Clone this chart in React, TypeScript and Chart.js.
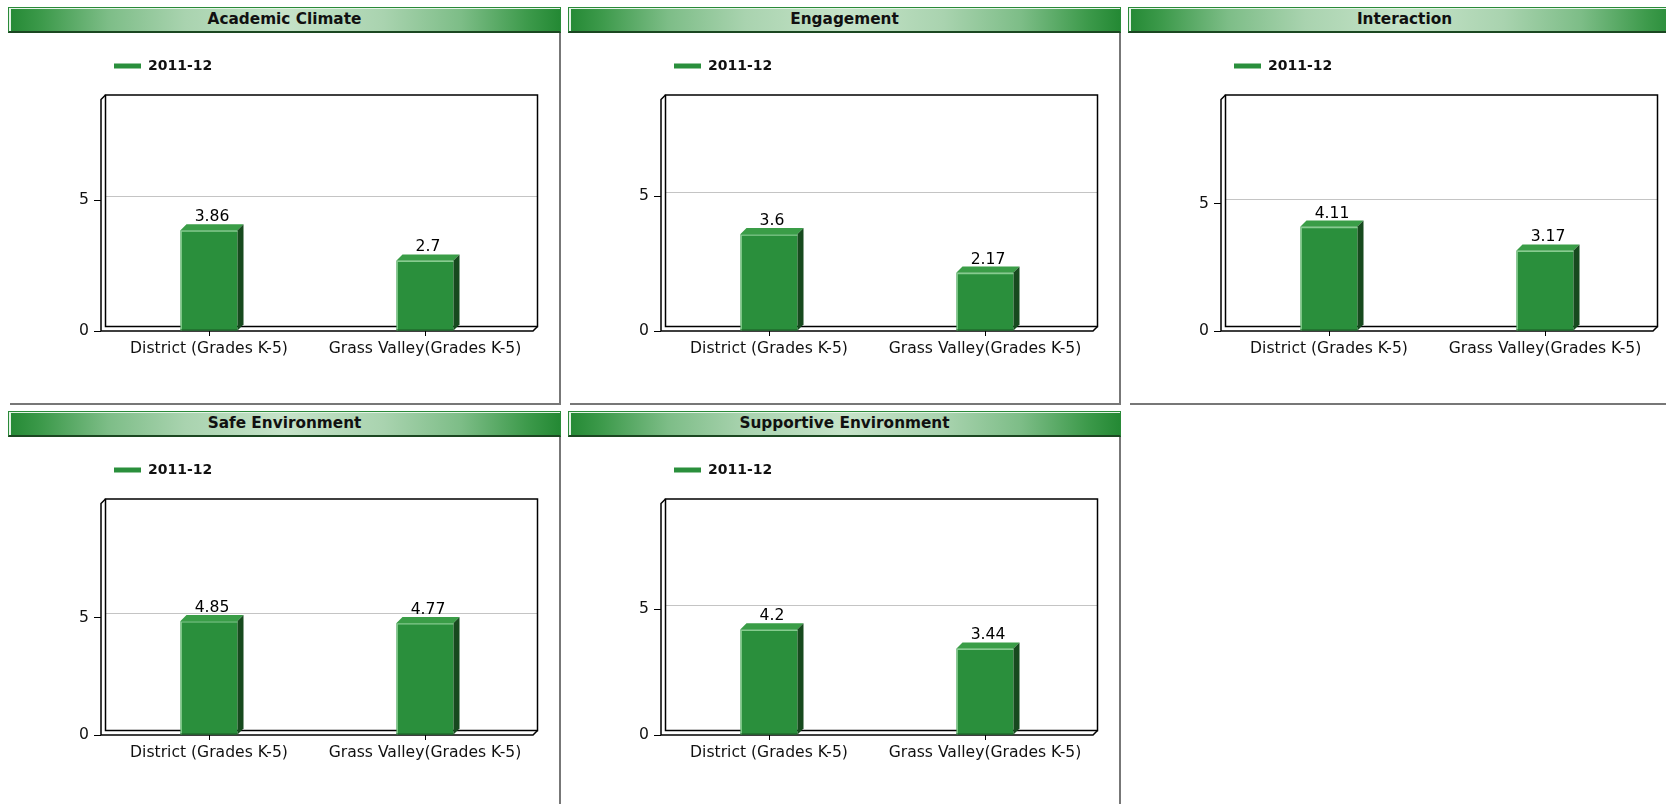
import React, { useEffect, useRef } from 'react';
import { Chart, registerables } from 'chart.js';

Chart.register(...registerables);

// ---------- data ----------
const panelTitles = ['Academic Climate', 'Engagement', 'Interaction', 'Safe Environment', 'Supportive Environment'];
const categories = ['District (Grades K-5)', 'Grass Valley(Grades K-5)'];
const seriesLabel = '2011-12';
const districtValues = [3.86, 3.6, 4.11, 4.85, 4.2];
const grassValleyValues = [2.7, 2.17, 3.17, 4.77, 3.44];
const yAxisMax = [8.86, 8.6, 9.11, 9.85, 9.2];
const yTickValues = [0, 5];

// ---------- style ----------
const FONT = "'DejaVu Sans', Verdana, sans-serif";
const BAR_COLOR = '#2a8f3c';
const WALL_DEPTH = 4.5;
const BAR_DEPTH = 6;
const PANEL_W = 560;
const PANEL_H = 404;
const HEADER_H = 26;
const CANVAS_W = 552;
const CANVAS_H = 371;
const TEXT_SIZE = 15.6;

const frame3d = {
  id: 'frame3d',
  beforeDatasetsDraw(chart: any) {
    const { ctx, chartArea } = chart;
    const { left: L, right: R, top: T, bottom: B } = chartArea;
    const D = WALL_DEPTH;
    const ys = chart.scales.y;
    ctx.save();
    ctx.strokeStyle = '#c4c4c4';
    ctx.lineWidth = 1;
    ys.ticks.forEach((t: any) => {
      if (t.value <= 0) return;
      const yy = Math.round(ys.getPixelForValue(t.value) - D) + 0.5;
      ctx.beginPath();
      ctx.moveTo(L + D, yy);
      ctx.lineTo(R + D, yy);
      ctx.stroke();
    });
    ctx.strokeStyle = '#000';
    ctx.lineWidth = 1.5;
    ctx.strokeRect(L + D, T - D, R - L, B - T);
    ctx.beginPath();
    ctx.moveTo(L + D, T - D);
    ctx.lineTo(L, T);
    ctx.lineTo(L, B);
    ctx.lineTo(R, B);
    ctx.lineTo(R + D, B - D);
    ctx.stroke();
    ctx.restore();
  },
};

const bars3d = {
  id: 'bars3d',
  afterDatasetsDraw(chart: any) {
    const { ctx } = chart;
    const ds = chart.data.datasets[0];
    const meta = chart.getDatasetMeta(0);
    const d = BAR_DEPTH;
    ctx.save();
    meta.data.forEach((bar: any, i: number) => {
      const { x, y, base, width } = bar.getProps(['x', 'y', 'base', 'width'], true);
      const l = x - width / 2;
      const r = x + width / 2;
      ctx.fillStyle = '#3a9d47';
      ctx.beginPath();
      ctx.moveTo(l, y);
      ctx.lineTo(l + d, y - d);
      ctx.lineTo(r + d, y - d);
      ctx.lineTo(r, y);
      ctx.closePath();
      ctx.fill();
      ctx.fillStyle = '#174a1e';
      ctx.beginPath();
      ctx.moveTo(r, y);
      ctx.lineTo(r + d, y - d);
      ctx.lineTo(r + d, base - d);
      ctx.lineTo(r, base);
      ctx.closePath();
      ctx.fill();
      ctx.strokeStyle = '#86cc8f';
      ctx.lineWidth = 1.2;
      ctx.beginPath();
      ctx.moveTo(l + 0.8, base);
      ctx.lineTo(l + 0.8, y + 1);
      ctx.lineTo(r, y + 1);
      ctx.stroke();
      ctx.strokeStyle = '#1a5a24';
      ctx.beginPath();
      ctx.moveTo(l, base - 0.5);
      ctx.lineTo(r, base - 0.5);
      ctx.stroke();
      ctx.fillStyle = '#000';
      ctx.font = `${TEXT_SIZE}px ${FONT}`;
      ctx.textAlign = 'center';
      ctx.textBaseline = 'alphabetic';
      ctx.fillText(String(ds.data[i]), x + d / 2, y - d - 3);
    });
    ctx.restore();
  },
};

const legendPlugin = {
  id: 'legendLine',
  afterDraw(chart: any) {
    const { ctx } = chart;
    const ds = chart.data.datasets[0];
    ctx.save();
    ctx.fillStyle = ds.backgroundColor;
    ctx.fillRect(106, 30.5, 27, 5);
    ctx.fillStyle = '#111';
    ctx.font = `bold 14px ${FONT}`;
    ctx.textAlign = 'left';
    ctx.textBaseline = 'middle';
    ctx.fillText(ds.label, 140, 33.5);
    ctx.restore();
  },
};

function Panel({ idx }: { idx: number }) {
  const ref = useRef<HTMLCanvasElement | null>(null);
  const col = idx % 3;
  const row = Math.floor(idx / 3);
  const x0 = 8 + col * PANEL_W;
  const y0 = 7 + row * PANEL_H;

  useEffect(() => {
    if (!ref.current) return;
    const chart = new Chart(ref.current, {
      type: 'bar',
      data: {
        labels: categories,
        datasets: [
          {
            label: seriesLabel,
            data: [districtValues[idx], grassValleyValues[idx]],
            backgroundColor: BAR_COLOR,
            borderWidth: 0,
            barPercentage: 0.264,
            categoryPercentage: 1,
          },
        ],
      },
      options: {
        responsive: false,
        animation: false,
        layout: { padding: { top: 66.5, right: 27, left: 0, bottom: 0 } },
        plugins: { legend: { display: false }, tooltip: { enabled: false } },
        scales: {
          x: {
            grid: { display: true, drawOnChartArea: false, drawTicks: true, tickLength: 5, color: '#000', offset: false },
            border: { display: false },
            ticks: { color: '#111', font: { size: TEXT_SIZE, family: FONT }, padding: 4, maxRotation: 0, autoSkip: false },
            afterFit: (s: any) => {
              s.height = 73;
            },
          },
          y: {
            min: 0,
            max: yAxisMax[idx],
            afterBuildTicks: (s: any) => {
              s.ticks = yTickValues.map((v) => ({ value: v }));
            },
            grid: { drawOnChartArea: false, drawTicks: true, tickLength: 7, color: '#000' },
            border: { display: false },
            ticks: { color: '#111', font: { size: TEXT_SIZE, family: FONT }, padding: 5 },
            afterFit: (s: any) => {
              s.width = 93;
            },
          },
        },
      },
      plugins: [frame3d, bars3d, legendPlugin],
    } as any);
    return () => chart.destroy();
  }, [idx]);

  return (
    <>
      <div
        style={{
          position: 'absolute',
          left: x0,
          top: y0,
          width: 553,
          height: HEADER_H,
          boxSizing: 'border-box',
          border: '1px solid #2a8a39',
          borderBottom: '2px solid #1b4721',
          background:
            'linear-gradient(to right, #248934 0%, #3d9a4b 6%, #7dbd87 18%, #a9d3af 32%, #c6e3c9 50%, #a9d3af 68%, #7dbd87 82%, #3d9a4b 94%, #248934 100%)',
          boxShadow: 'inset 2px 1px 0 #e4f3e6',
          font: `bold 15.3px ${FONT}`,
          color: '#111',
          textAlign: 'center',
          lineHeight: '23px',
          whiteSpace: 'nowrap',
        }}
      >
        {panelTitles[idx]}
      </div>
      <div style={{ position: 'absolute', left: x0 + 551, top: y0 + HEADER_H, width: 2, height: CANVAS_H, background: '#777' }} />
      <div style={{ position: 'absolute', left: x0 + 2, top: y0 + 396, width: 551, height: 2, background: '#777' }} />
      <canvas
        ref={ref}
        width={CANVAS_W}
        height={CANVAS_H}
        style={{ position: 'absolute', left: x0, top: y0 + HEADER_H, width: CANVAS_W, height: CANVAS_H }}
      />
    </>
  );
}

export default function App() {
  return (
    <div style={{ position: 'fixed', left: 0, top: 0, width: '100vw', height: '100vh', overflow: 'hidden', background: '#fff' }}>
      {panelTitles.map((_, i) => (
        <Panel key={i} idx={i} />
      ))}
    </div>
  );
}
